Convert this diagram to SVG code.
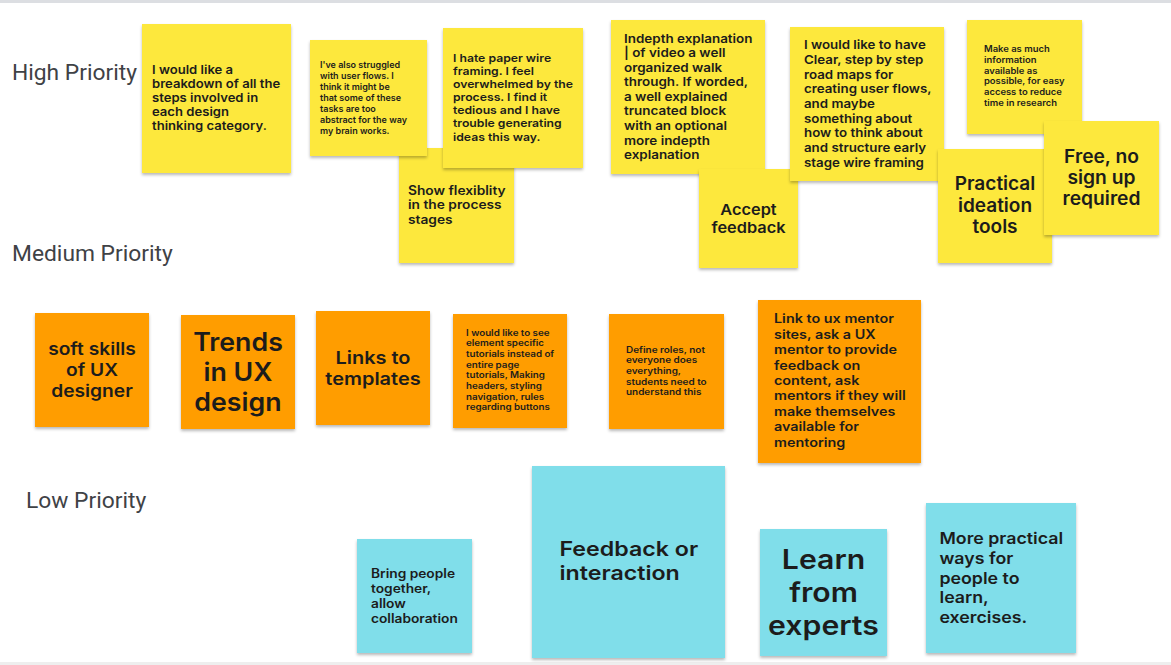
<svg xmlns="http://www.w3.org/2000/svg" width="1171" height="665" viewBox="0 0 1171 665">
  <style>
    .lbl { font-family: Roboto, "Liberation Sans", sans-serif; font-weight: 400; fill: #3f4246; font-size: 22.8px; }
    .t { font-family: Inter, "Open Sans", "Liberation Sans", sans-serif; font-weight: 600; fill: #1c1c1c; }
    .c { text-anchor: middle; }
    .y { fill: #fde83e; }
    .o { fill: #ff9d00; }
    .b { fill: #80deea; }
    .note { filter: url(#shadow); }
  </style>
  <defs>
    <filter id="shadow" x="-10%" y="-10%" width="120%" height="125%">
      <feDropShadow dx="0" dy="2" stdDeviation="1.5" flood-color="#000" flood-opacity="0.28"/>
    </filter>
  </defs>

  <rect width="1171" height="665" fill="#ffffff"/>
  <rect x="0" y="0" width="1171" height="3" fill="#dcdee2"/>
  <rect x="0" y="662" width="1171" height="3" fill="#eeeeee"/>

  <!-- row labels -->
  <g id="labels">
    <text class="lbl" x="12" y="80">High Priority</text>
    <text class="lbl" x="12" y="261">Medium Priority</text>
    <text class="lbl" x="26" y="508">Low Priority</text>
  </g>

  <!-- high priority (yellow); text widened horizontally for the geometric sticky-note face -->
  <g id="n-flex">
    <rect class="note y" x="399" y="148" width="115" height="115"/>
    <text class="t" font-size="12.5" transform="matrix(1.1 0 0 1 -40.8 0)"><tspan x="408" y="195">Show flexiblity</tspan><tspan x="408" y="209.5">in the process</tspan><tspan x="408" y="224">stages</tspan></text>
  </g>
  <g id="n-breakdown">
    <rect class="note y" x="142" y="24" width="149" height="149"/>
    <text class="t" font-size="11.8" transform="matrix(1.11 0 0 1 -16.72 0)"><tspan x="152" y="74">I would like a</tspan><tspan x="152" y="88">breakdown of all the</tspan><tspan x="152" y="102">steps involved in</tspan><tspan x="152" y="116">each design</tspan><tspan x="152" y="130">thinking category.</tspan></text>
  </g>
  <g id="n-struggled">
    <rect class="note y" x="310" y="40" width="117" height="116"/>
    <text class="t" font-size="9"><tspan x="320" y="67.7">I've also struggled</tspan><tspan x="320" y="78.7">with user flows. I</tspan><tspan x="320" y="89.7">think it might be</tspan><tspan x="320" y="100.7">that some of these</tspan><tspan x="320" y="112">tasks are too</tspan><tspan x="320" y="123">abstract for the way</tspan><tspan x="320" y="134">my brain works.</tspan></text>
  </g>
  <g id="n-paper">
    <rect class="note y" x="443" y="28" width="140" height="140"/>
    <text class="t" font-size="11" transform="matrix(1.11 0 0 1 -49.83 0)"><tspan x="453" y="62">I hate paper wire</tspan><tspan x="453" y="75">framing. I feel</tspan><tspan x="453" y="88">overwhelmed by the</tspan><tspan x="453" y="101.5">process. I find it</tspan><tspan x="453" y="114.5">tedious and I have</tspan><tspan x="453" y="127.5">trouble generating</tspan><tspan x="453" y="141">ideas this way.</tspan></text>
  </g>
  <g id="n-indepth">
    <rect class="note y" x="611" y="20" width="154" height="154"/>
    <text class="t" font-size="12" transform="matrix(1.12 0 0 1 -74.88 0)"><tspan x="624" y="42.7">Indepth explanation</tspan><tspan x="624" y="57.3">| of video a well</tspan><tspan x="624" y="72">organized walk</tspan><tspan x="624" y="86.5">through. If worded,</tspan><tspan x="624" y="101">a well explained</tspan><tspan x="624" y="115.5">truncated block</tspan><tspan x="624" y="130">with an optional</tspan><tspan x="624" y="145">more indepth</tspan><tspan x="624" y="159.5">explanation</tspan></text>
  </g>
  <g id="n-accept">
    <rect class="note y" x="699" y="169" width="99" height="99"/>
    <text class="t c" font-size="15" transform="matrix(1.09 0 0 1 -67.365 0)"><tspan x="748.5" y="215">Accept</tspan><tspan x="748.5" y="233.5">feedback</tspan></text>
  </g>
  <g id="n-roadmaps">
    <rect class="note y" x="790" y="27" width="154" height="154"/>
    <text class="t" font-size="12" transform="matrix(1.11 0 0 1 -88.44 0)"><tspan x="804" y="49.5">I would like to have</tspan><tspan x="804" y="64">Clear, step by step</tspan><tspan x="804" y="78.7">road maps for</tspan><tspan x="804" y="93.5">creating user flows,</tspan><tspan x="804" y="108">and maybe</tspan><tspan x="804" y="122.7">something about</tspan><tspan x="804" y="137.3">how to think about</tspan><tspan x="804" y="152">and structure early</tspan><tspan x="804" y="166.7">stage wire framing</tspan></text>
  </g>
  <g id="n-info">
    <rect class="note y" x="967" y="20" width="115" height="114"/>
    <text class="t" font-size="8.5" transform="matrix(1.11 0 0 1 -108.24 0)"><tspan x="984" y="52.3">Make as much</tspan><tspan x="984" y="63">information</tspan><tspan x="984" y="73.7">available as</tspan><tspan x="984" y="84.3">possible, for easy</tspan><tspan x="984" y="95">access to reduce</tspan><tspan x="984" y="105.7">time in research</tspan></text>
  </g>
  <g id="n-ideation">
    <rect class="note y" x="938" y="149" width="114" height="114"/>
    <text class="t c" font-size="18.5" transform="matrix(1.03 0 0 1 -29.85 0)"><tspan x="995" y="190.5">Practical</tspan><tspan x="995" y="212">ideation</tspan><tspan x="995" y="233.5">tools</tspan></text>
  </g>
  <g id="n-free">
    <rect class="note y" x="1044" y="121" width="115" height="114"/>
    <text class="t c" font-size="18.5" transform="matrix(1.04 0 0 1 -44.06 0)"><tspan x="1101.5" y="163">Free, no</tspan><tspan x="1101.5" y="184">sign up</tspan><tspan x="1101.5" y="205">required</tspan></text>
  </g>

  <!-- medium priority (orange) -->
  <g id="n-softskills">
    <rect class="note o" x="35" y="313" width="114" height="114"/>
    <text class="t c" font-size="17" transform="matrix(1.13 0 0 1 -11.96 0)"><tspan x="92" y="355">soft skills</tspan><tspan x="92" y="376">of UX</tspan><tspan x="92" y="397">designer</tspan></text>
  </g>
  <g id="n-trends">
    <rect class="note o" x="181" y="315" width="114" height="114"/>
    <text class="t c" font-size="25" transform="matrix(1.07 0 0 1 -16.66 0)"><tspan x="238" y="351">Trends</tspan><tspan x="238" y="381">in UX</tspan><tspan x="238" y="411">design</tspan></text>
  </g>
  <g id="n-templates">
    <rect class="note o" x="316" y="311" width="114" height="114"/>
    <text class="t c" font-size="17.5" transform="matrix(1.14 0 0 1 -52.22 0)"><tspan x="373" y="364">Links to</tspan><tspan x="373" y="385.5">templates</tspan></text>
  </g>
  <g id="n-elements">
    <rect class="note o" x="453" y="314" width="114" height="114"/>
    <text class="t" font-size="8.5" transform="matrix(1.15 0 0 1 -69.9 0)"><tspan x="466" y="335.7">I would like to see</tspan><tspan x="466" y="346.3">element specific</tspan><tspan x="466" y="357">tutorials instead of</tspan><tspan x="466" y="367.7">entire page</tspan><tspan x="466" y="378.3">tutorials, Making</tspan><tspan x="466" y="389">headers, styling</tspan><tspan x="466" y="399.7">navigation, rules</tspan><tspan x="466" y="410.3">regarding buttons</tspan></text>
  </g>
  <g id="n-roles">
    <rect class="note o" x="609" y="314" width="115" height="115"/>
    <text class="t" font-size="8.5" transform="matrix(1.17 0 0 1 -106.42 0)"><tspan x="626" y="352.7">Define roles, not</tspan><tspan x="626" y="363.3">everyone does</tspan><tspan x="626" y="374">everything,</tspan><tspan x="626" y="384.7">students need to</tspan><tspan x="626" y="395.3">understand this</tspan></text>
  </g>
  <g id="n-mentor">
    <rect class="note o" x="758" y="300" width="163" height="163"/>
    <text class="t" font-size="12.5" transform="matrix(1.15 0 0 1 -116.1 0)"><tspan x="774" y="323.5">Link to ux mentor</tspan><tspan x="774" y="339">sites, ask a UX</tspan><tspan x="774" y="354.3">mentor to provide</tspan><tspan x="774" y="369.7">feedback on</tspan><tspan x="774" y="385">content, ask</tspan><tspan x="774" y="400.5">mentors if they will</tspan><tspan x="774" y="416">make themselves</tspan><tspan x="774" y="431.5">available for</tspan><tspan x="774" y="447">mentoring</tspan></text>
  </g>

  <!-- low priority (light blue) -->
  <g id="n-together">
    <rect class="note b" x="357" y="539" width="115" height="114"/>
    <text class="t" font-size="12.5" transform="matrix(1.1 0 0 1 -37.1 0)"><tspan x="371" y="578.5">Bring people</tspan><tspan x="371" y="593.5">together,</tspan><tspan x="371" y="608.5">allow</tspan><tspan x="371" y="623.5">collaboration</tspan></text>
  </g>
  <g id="n-feedback">
    <rect class="note b" x="532" y="466" width="193" height="192"/>
    <text class="t" font-size="20" transform="matrix(1.16 0 0 1 -89.52 0)"><tspan x="559.5" y="556.5">Feedback or</tspan><tspan x="559.5" y="580.5">interaction</tspan></text>
  </g>
  <g id="n-experts">
    <rect class="note b" x="760" y="529" width="127" height="127"/>
    <text class="t c" font-size="27" transform="matrix(1.12 0 0 1 -98.82 0)"><tspan x="823.5" y="569">Learn</tspan><tspan x="823.5" y="602">from</tspan><tspan x="823.5" y="635">experts</tspan></text>
  </g>
  <g id="n-practical">
    <rect class="note b" x="926" y="503" width="150" height="150"/>
    <text class="t" font-size="16" transform="matrix(1.11 0 0 1 -103.345 0)"><tspan x="939.5" y="544">More practical</tspan><tspan x="939.5" y="564">ways for</tspan><tspan x="939.5" y="584">people to</tspan><tspan x="939.5" y="603.5">learn,</tspan><tspan x="939.5" y="623.5">exercises.</tspan></text>
  </g>

  <!-- no connectors between the notes -->
  <g id="connectors"/>
</svg>
